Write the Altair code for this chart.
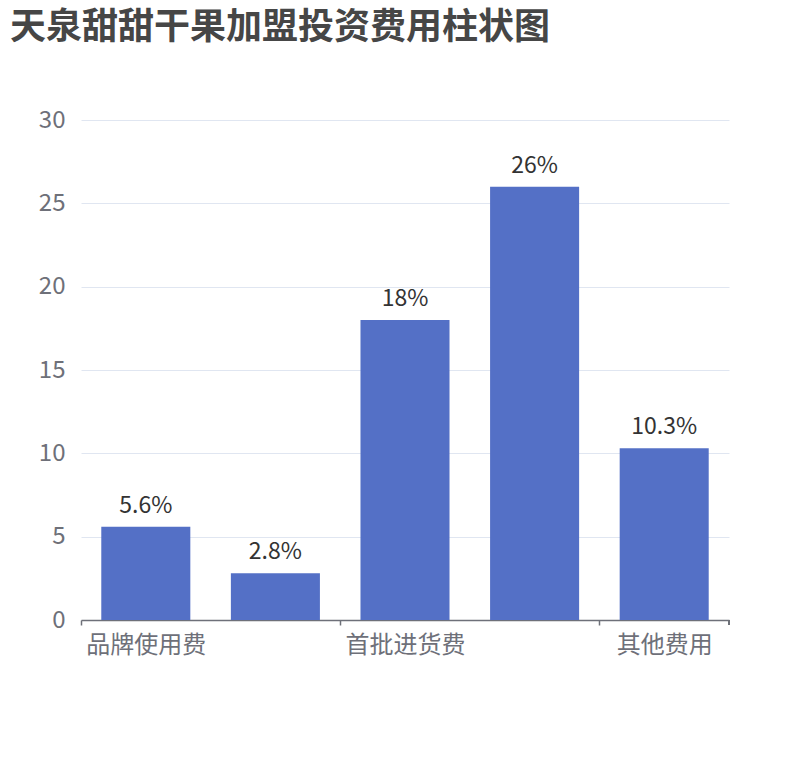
import altair as alt
import pandas as pd

categories = ["品牌使用费", "加盟费", "首批进货费", "装修费", "其他费用"]
values = [5.6, 2.8, 18, 26, 10.3]
labels = ["5.6%", "2.8%", "18%", "26%", "10.3%"]
shown_labels = ["品牌使用费", "首批进货费", "其他费用"]
y_ticks = [0, 5, 10, 15, 20, 25, 30]

df = pd.DataFrame({"cat": categories, "val": values, "lab": labels})

FONT = "Noto Sans CJK SC"
W, H = 648, 500
PI = 0.313
step = W / len(categories)
half_gap = step * PI / 2

x_enc = alt.X(
    "cat:N",
    sort=categories,
    scale=alt.Scale(paddingInner=PI, paddingOuter=PI / 2),
    axis=alt.Axis(
        title=None,
        values=shown_labels,
        bandPosition=0,
        tickOffset=-half_gap,
        labelOffset=half_gap,
        labelAngle=0,
        labelAlign="center",
        labelFontSize=24,
        labelColor="#6E7079",
        labelFont=FONT,
        labelPadding=8,
        tickSize=5,
        tickColor="#6E7079",
        domainColor="#6E7079",
        tickWidth=1.5,
        domainWidth=1.5,
        grid=False,
    ),
)
y_enc = alt.Y(
    "val:Q",
    scale=alt.Scale(domain=[0, 30], nice=False),
    axis=alt.Axis(
        title=None,
        values=y_ticks,
        domain=False,
        ticks=False,
        labelFontSize=24,
        labelColor="#6E7079",
        labelFont=FONT,
        labelPadding=16,
        gridColor="#E0E6F1",
        gridWidth=1,
    ),
)

base = alt.Chart(df)
bars = base.mark_bar(color="#5470C6").encode(x=x_enc, y=y_enc)
text = base.mark_text(
    baseline="bottom", dy=-9, fontSize=23, color="#333333", font=FONT
).encode(x=alt.X("cat:N", sort=categories), y="val:Q", text="lab:N")
edge_tick = base.mark_rule(color="#6E7079", strokeWidth=1.5).encode(
    x=alt.value(W), y=alt.value(H), y2=alt.value(H + 5)
)

chart = (
    alt.layer(bars, text, edge_tick)
    .properties(
        width=W,
        height=H,
        autosize=alt.AutoSizeParams(type="none"),
        padding={"left": 81, "top": 120, "right": 81, "bottom": 140},
        title=alt.TitleParams(
            "天泉甜甜干果加盟投资费用柱状图",
            anchor="start",
            frame="group",
            dx=-71,
            dy=-57,
            fontSize=36,
            fontWeight="bold",
            color="#464646",
            font=FONT,
        ),
    )
    .configure_view(stroke=None)
)

chart.save("out.html", embed_options={"renderer": "svg", "actions": False})
